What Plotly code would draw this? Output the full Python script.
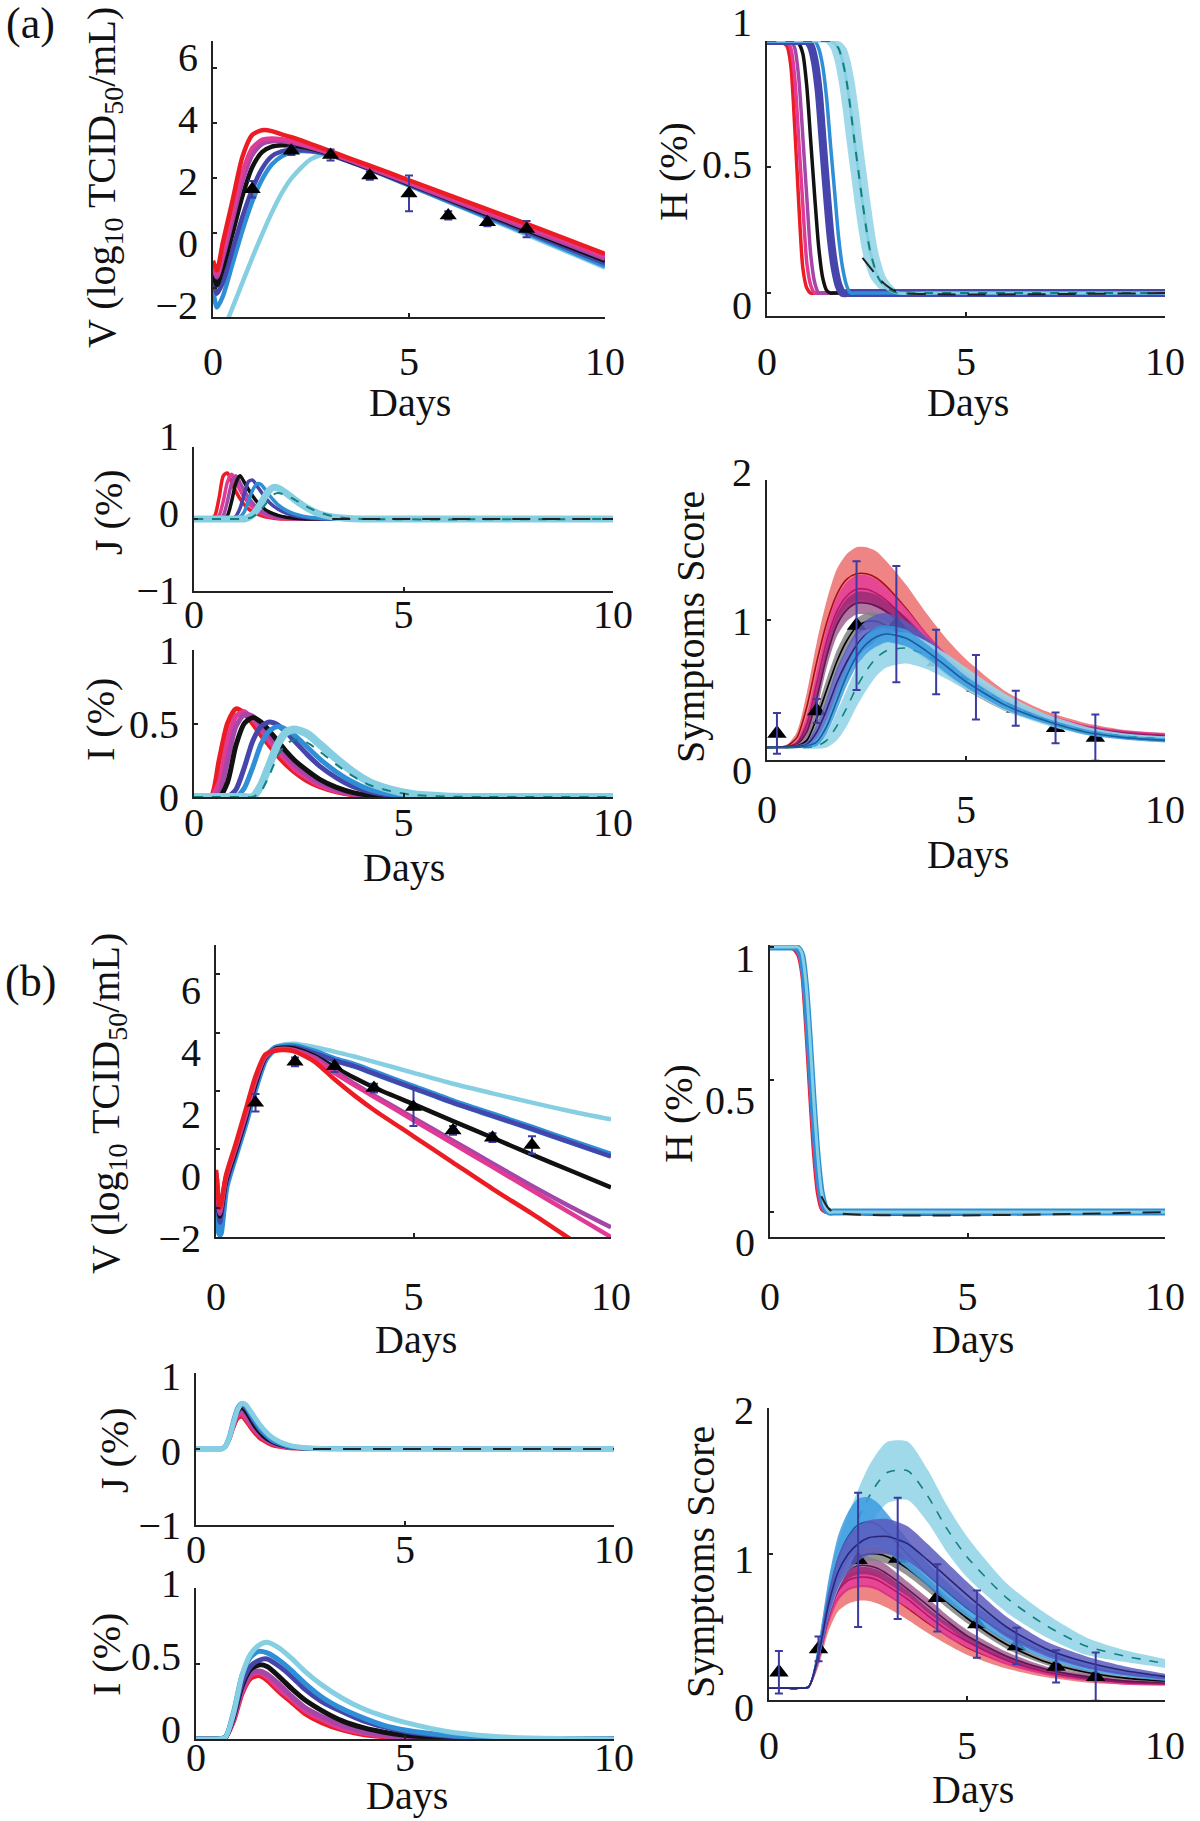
import plotly.graph_objects as go

W, H = 1200, 1821
FONT = "Liberation Serif, Times New Roman, serif"

# line colours of the seven parameter groups
COLORS = {
    "red": "#ec1c24", "pink": "#e03a94", "purple": "#a547a9", "black": "#111111",
    "indigo": "#4545ab", "blue": "#2f8fd6", "cyan": "#86cfe3",
}
FILLS = {
    "red": "rgba(236,110,110,0.85)", "pink": "rgba(228,60,150,0.85)",
    "purple": "rgba(120,30,100,0.60)", "black": "rgba(130,130,130,0.85)",
    "indigo": "rgba(90,90,190,0.85)", "blue": "rgba(60,155,225,0.85)",
    "cyan": "rgba(150,214,232,0.90)",
}
CENTER = {
    "red": "#a80d12", "pink": "#b8156e", "purple": "#5e1650", "black": "#000000",
    "indigo": "#26267a", "blue": "#16609c", "cyan": "#12807c",
}
V_ORDER = ["cyan", "blue", "indigo", "black", "purple", "pink", "red"]
L_ORDER = ["red", "pink", "purple", "black", "indigo", "blue", "cyan"]
SA_ORDER = ["red", "pink", "purple", "black", "indigo", "cyan", "blue"]
SB_ORDER = ["red", "pink", "purple", "black", "cyan", "blue", "indigo"]

# observed data
V_DAYS = [1, 2, 3, 4, 5, 6, 7, 8]
V_OBS = [1.6, 3.0, 2.85, 2.1, 1.45, 0.65, 0.4, 0.15]
V_ERR = [0.3, 0.15, 0.2, 0.15, 0.65, 0.15, 0.15, 0.3]
S_DAYS = [0.25, 1.25, 2.25, 3.25, 4.25, 5.25, 6.25, 7.25, 8.25]
S_OBS = [0.19, 0.35, 0.96, 0.97, 0.7, 0.52, 0.37, 0.23, 0.16]
S_ERR = [0.145, 0.085, 0.46, 0.415, 0.23, 0.23, 0.125, 0.11, 0.165]

# ---- viral load, log10 TCID50/mL ----
V_GRID = [0, 0.1, 0.25, 0.5, 0.75, 1.0, 1.25, 1.5, 1.75, 2.0, 2.5, 3.0, 3.5, 4, 5, 6, 7, 8, 9, 10]
VA = {
    "red":    [-1.0, -1.35, -0.35, 1.2, 2.78, 3.58, 3.75, 3.72, 3.6, 3.5, 3.25, 2.98, 2.72, 2.46, 1.93, 1.4, 0.87, 0.34, -0.2, -0.75],
    "pink":   [-1.1, -1.5, -0.7, 0.8, 2.2, 3.1, 3.4, 3.45, 3.42, 3.35, 3.15, 2.93, 2.67, 2.4, 1.86, 1.32, 0.78, 0.24, -0.3, -0.85],
    "purple": [-1.2, -1.6, -0.9, 0.5, 1.9, 2.85, 3.25, 3.35, 3.35, 3.3, 3.12, 2.9, 2.64, 2.37, 1.82, 1.27, 0.72, 0.17, -0.38, -0.93],
    "black":  [-1.4, -1.9, -1.3, 0.0, 1.35, 2.4, 2.95, 3.15, 3.2, 3.2, 3.08, 2.88, 2.62, 2.35, 1.8, 1.24, 0.68, 0.12, -0.44, -1.0],
    "indigo": [-1.6, -2.2, -1.8, -0.6, 0.6, 1.6, 2.35, 2.8, 2.98, 3.03, 3.0, 2.85, 2.6, 2.33, 1.77, 1.2, 0.63, 0.06, -0.52, -1.1],
    "blue":   [-2.0, -2.7, -2.3, -1.1, 0.1, 1.15, 1.95, 2.5, 2.8, 2.95, 2.98, 2.85, 2.6, 2.32, 1.74, 1.16, 0.58, 0.0, -0.6, -1.2],
    "cyan":   [-3.4, -3.6, -3.5, -2.7, -1.8, -0.9, -0.05, 0.75, 1.45, 2.0, 2.7, 2.92, 2.68, 2.36, 1.75, 1.15, 0.55, -0.05, -0.65, -1.25],
}
VB = {
    "red":    [-0.7, -2.0, -0.9, 0.2, 1.35, 2.5, 3.25, 3.38, 3.4, 3.35, 3.0, 2.4, 1.85, 1.35, 0.45, -0.45, -1.35, -2.2, -3.1, -4.0],
    "pink":   [-0.75, -2.1, -0.95, 0.12, 1.25, 2.42, 3.2, 3.4, 3.42, 3.37, 3.08, 2.62, 2.2, 1.8, 1.0, 0.2, -0.6, -1.4, -2.2, -3.0],
    "purple": [-0.8, -2.2, -1.0, 0.05, 1.15, 2.35, 3.18, 3.42, 3.45, 3.4, 3.15, 2.7, 2.25, 1.85, 1.08, 0.3, -0.48, -1.25, -1.98, -2.67],
    "black":  [-0.85, -2.3, -1.1, -0.05, 1.05, 2.25, 3.15, 3.44, 3.48, 3.45, 3.2, 2.82, 2.45, 2.12, 1.55, 0.97, 0.4, -0.18, -0.74, -1.3],
    "indigo": [-0.9, -2.5, -1.2, -0.1, 1.0, 2.2, 3.12, 3.45, 3.5, 3.5, 3.3, 3.05, 2.85, 2.6, 2.1, 1.6, 1.15, 0.7, 0.23, -0.24],
    "blue":   [-1.0, -2.9, -1.3, -0.15, 0.95, 2.15, 3.1, 3.46, 3.52, 3.52, 3.33, 3.08, 2.88, 2.63, 2.13, 1.63, 1.18, 0.73, 0.26, -0.2],
    "cyan":   [-1.0, -2.9, -1.35, -0.2, 0.9, 2.1, 3.1, 3.5, 3.6, 3.62, 3.5, 3.35, 3.18, 3.0, 2.62, 2.25, 1.92, 1.6, 1.3, 1.03],
}

# ---- healthy cells H ----
HA_GRID = [0, 0.3, 0.5, 0.6, 0.7, 0.8, 0.9, 1.0, 1.1, 1.2, 1.3, 1.4, 1.5, 1.6, 1.7, 1.8, 1.9, 2.0,
           2.1, 2.2, 2.3, 2.4, 2.5, 2.6, 2.8, 3.0, 3.3, 4.0, 10]
HA = {
    "red":    [1, 1, 0.98, 0.9, 0.65, 0.35, 0.1, 0.02, 0, 0, 0, 0, 0, 0, 0, 0, 0, 0, 0, 0, 0, 0, 0, 0, 0, 0, 0, 0, 0],
    "pink":   [1, 1, 1, 0.97, 0.85, 0.6, 0.35, 0.12, 0.03, 0, 0, 0, 0, 0, 0, 0, 0, 0, 0, 0, 0, 0, 0, 0, 0, 0, 0, 0, 0],
    "purple": [1, 1, 1, 1, 0.97, 0.85, 0.62, 0.38, 0.15, 0.04, 0, 0, 0, 0, 0, 0, 0, 0, 0, 0, 0, 0, 0, 0, 0, 0, 0, 0, 0],
    "black":  [1, 1, 1, 1, 1, 0.99, 0.95, 0.82, 0.6, 0.38, 0.18, 0.06, 0.01, 0, 0, 0, 0, 0, 0, 0, 0, 0, 0, 0, 0, 0, 0, 0, 0],
    "indigo": [1, 1, 1, 1, 1, 1, 1, 1, 0.98, 0.92, 0.8, 0.6, 0.4, 0.22, 0.1, 0.03, 0, 0, 0, 0, 0, 0, 0, 0, 0, 0, 0, 0, 0],
    "blue":   [1, 1, 1, 1, 1, 1, 1, 1, 1, 1, 0.97, 0.9, 0.77, 0.58, 0.4, 0.22, 0.1, 0.03, 0, 0, 0, 0, 0, 0, 0, 0, 0, 0, 0],
    "cyan":   [1, 1, 1, 1, 1, 1, 1, 1, 1, 1, 1, 1, 1, 1, 0.99, 0.97, 0.92, 0.84, 0.73, 0.6, 0.48, 0.36, 0.25, 0.16, 0.06, 0.02, 0, 0, 0],
}
HA_CYAN_HI = [1, 1, 1, 1, 1, 1, 1, 1, 1, 1, 1, 1, 1, 1, 1, 1, 0.99, 0.97, 0.92, 0.84, 0.73, 0.6, 0.48, 0.36, 0.16, 0.06, 0.01, 0, 0]
HA_CYAN_LO = [1, 1, 1, 1, 1, 1, 1, 1, 1, 1, 1, 1, 0.99, 0.97, 0.92, 0.84, 0.73, 0.6, 0.48, 0.36, 0.25, 0.16, 0.1, 0.06, 0.02, 0, 0, 0, 0]
HA_DASH_DAYS = [2.4, 2.6, 2.8, 3.0, 3.2, 3.4, 10]
HA_DASH = [0.14, 0.1, 0.06, 0.03, 0.01, 0, 0]

HB_GRID = [0, 0.5, 0.6, 0.7, 0.8, 0.9, 1.0, 1.1, 1.2, 1.3, 1.4, 1.5, 1.6, 10]
HB = {
    "red":    [1, 1, 0.99, 0.97, 0.9, 0.7, 0.45, 0.22, 0.07, 0.01, 0, 0, 0, 0],
    "pink":   [1, 1, 0.995, 0.98, 0.92, 0.74, 0.5, 0.27, 0.1, 0.02, 0, 0, 0, 0],
    "purple": [1, 1, 1, 0.985, 0.94, 0.77, 0.54, 0.31, 0.12, 0.03, 0, 0, 0, 0],
    "black":  [1, 1, 1, 0.99, 0.95, 0.8, 0.58, 0.35, 0.15, 0.05, 0.02, 0.01, 0, 0],
    "indigo": [1, 1, 1, 0.99, 0.96, 0.82, 0.6, 0.37, 0.17, 0.05, 0.01, 0, 0, 0],
    "blue":   [1, 1, 1, 0.995, 0.97, 0.85, 0.64, 0.4, 0.2, 0.07, 0.015, 0, 0, 0],
    "cyan":   [1, 1, 1, 1, 0.98, 0.88, 0.68, 0.44, 0.23, 0.08, 0.02, 0, 0, 0],
}
HB_DASH_DAYS = [1.3, 1.45, 1.6, 10]
HB_DASH = [0.06, 0.02, 0, 0]

# ---- eclipse cells J ----
JA_GRID = [0, 0.4, 0.5, 0.6, 0.7, 0.8, 0.9, 1.0, 1.1, 1.2, 1.3, 1.4, 1.5, 1.6, 1.7, 1.8, 1.9, 2.0,
           2.2, 2.4, 2.6, 2.8, 3.0, 3.3, 3.6, 4.0, 10]
JA = {
    "red":    [0, 0, 0.05, 0.3, 0.6, 0.64, 0.5, 0.38, 0.28, 0.2, 0.14, 0.1, 0.07, 0.05, 0.03, 0.02, 0.01, 0.005, 0, 0, 0, 0, 0, 0, 0, 0, 0],
    "pink":   [0, 0, 0, 0.05, 0.25, 0.52, 0.62, 0.52, 0.4, 0.3, 0.22, 0.16, 0.11, 0.08, 0.05, 0.035, 0.02, 0.012, 0.004, 0, 0, 0, 0, 0, 0, 0, 0],
    "purple": [0, 0, 0, 0, 0.05, 0.25, 0.5, 0.6, 0.5, 0.39, 0.3, 0.22, 0.16, 0.11, 0.08, 0.055, 0.038, 0.025, 0.01, 0.003, 0, 0, 0, 0, 0, 0, 0],
    "black":  [0, 0, 0, 0, 0, 0.05, 0.25, 0.5, 0.6, 0.51, 0.41, 0.32, 0.24, 0.18, 0.13, 0.095, 0.07, 0.05, 0.025, 0.012, 0.005, 0, 0, 0, 0, 0, 0],
    "indigo": [0, 0, 0, 0, 0, 0, 0, 0.04, 0.15, 0.35, 0.52, 0.54, 0.46, 0.38, 0.3, 0.23, 0.18, 0.14, 0.08, 0.045, 0.025, 0.012, 0.005, 0, 0, 0, 0],
    "blue":   [0, 0, 0, 0, 0, 0, 0, 0, 0.03, 0.1, 0.25, 0.4, 0.49, 0.48, 0.41, 0.33, 0.26, 0.2, 0.12, 0.07, 0.04, 0.02, 0.01, 0.003, 0, 0, 0],
    "cyan":   [0, 0, 0, 0, 0, 0, 0, 0, 0, 0, 0.02, 0.06, 0.13, 0.22, 0.32, 0.4, 0.44, 0.43, 0.36, 0.27, 0.19, 0.12, 0.07, 0.03, 0.01, 0, 0],
}
JA_TEAL = [0, 0, 0, 0, 0, 0, 0, 0, 0, 0, 0.01, 0.03, 0.07, 0.13, 0.2, 0.28, 0.34, 0.36, 0.33, 0.27, 0.2, 0.14, 0.09, 0.04, 0.015, 0, 0]
JA_DASH_DAYS = [3.3, 10]
JA_DASH = [0, 0]

JB_GRID = [0, 0.5, 0.6, 0.7, 0.8, 0.9, 1.0, 1.1, 1.2, 1.3, 1.4, 1.5, 1.6, 1.8, 2.0, 2.2, 2.5, 3.0, 10]
JB = {
    "red":    [0, 0, 0, 0.03, 0.12, 0.28, 0.4, 0.42, 0.36, 0.28, 0.21, 0.15, 0.11, 0.05, 0.025, 0.01, 0.003, 0, 0],
    "pink":   [0, 0, 0, 0.03, 0.13, 0.3, 0.43, 0.45, 0.39, 0.31, 0.24, 0.18, 0.13, 0.07, 0.035, 0.015, 0.005, 0, 0],
    "purple": [0, 0, 0, 0.03, 0.14, 0.32, 0.46, 0.5, 0.44, 0.35, 0.27, 0.2, 0.15, 0.08, 0.04, 0.02, 0.006, 0, 0],
    "black":  [0, 0, 0, 0.03, 0.15, 0.34, 0.49, 0.54, 0.48, 0.39, 0.3, 0.23, 0.17, 0.095, 0.05, 0.025, 0.008, 0.001, 0],
    "indigo": [0, 0, 0, 0.03, 0.15, 0.35, 0.51, 0.57, 0.52, 0.43, 0.34, 0.26, 0.2, 0.11, 0.06, 0.03, 0.01, 0.002, 0],
    "blue":   [0, 0, 0, 0.035, 0.16, 0.37, 0.54, 0.6, 0.56, 0.47, 0.38, 0.3, 0.23, 0.13, 0.075, 0.04, 0.015, 0.003, 0],
    "cyan":   [0, 0, 0, 0.03, 0.15, 0.35, 0.52, 0.6, 0.58, 0.5, 0.42, 0.34, 0.27, 0.16, 0.095, 0.055, 0.022, 0.005, 0],
}
JB_DASH_DAYS = [2.8, 10]
JB_DASH = [0, 0]

# ---- infected cells I ----
IA_GRID = [0, 0.4, 0.6, 0.8, 1.0, 1.2, 1.4, 1.6, 1.8, 2.0, 2.2, 2.4, 2.7, 3.0, 3.4, 3.8, 4.2, 4.7, 5.2, 6, 7, 10]
IA = {
    "red":    [0, 0, 0.25, 0.5, 0.6, 0.57, 0.5, 0.42, 0.35, 0.28, 0.22, 0.17, 0.11, 0.07, 0.035, 0.015, 0.005, 0, 0, 0, 0, 0],
    "pink":   [0, 0, 0.1, 0.38, 0.55, 0.58, 0.53, 0.46, 0.38, 0.31, 0.25, 0.19, 0.13, 0.08, 0.04, 0.018, 0.007, 0, 0, 0, 0, 0],
    "purple": [0, 0, 0.03, 0.25, 0.48, 0.56, 0.55, 0.49, 0.42, 0.35, 0.28, 0.22, 0.15, 0.1, 0.05, 0.022, 0.009, 0.002, 0, 0, 0, 0],
    "black":  [0, 0, 0, 0.1, 0.35, 0.5, 0.54, 0.51, 0.45, 0.38, 0.31, 0.25, 0.18, 0.12, 0.065, 0.03, 0.012, 0.003, 0, 0, 0, 0],
    "indigo": [0, 0, 0, 0, 0.05, 0.2, 0.38, 0.48, 0.51, 0.49, 0.44, 0.38, 0.29, 0.21, 0.13, 0.07, 0.035, 0.012, 0.003, 0, 0, 0],
    "blue":   [0, 0, 0, 0, 0, 0.06, 0.2, 0.36, 0.45, 0.48, 0.46, 0.42, 0.34, 0.26, 0.17, 0.1, 0.05, 0.018, 0.005, 0, 0, 0],
    "cyan":   [0, 0, 0, 0, 0, 0, 0, 0.08, 0.22, 0.36, 0.44, 0.46, 0.43, 0.36, 0.26, 0.17, 0.1, 0.05, 0.02, 0.004, 0, 0],
}
IA_TEAL = [0, 0, 0, 0, 0, 0, 0, 0.04, 0.15, 0.28, 0.36, 0.39, 0.37, 0.31, 0.22, 0.14, 0.08, 0.04, 0.015, 0.003, 0, 0]

IB_GRID = [0, 0.5, 0.7, 0.9, 1.1, 1.3, 1.5, 1.7, 2.0, 2.3, 2.6, 3.0, 3.5, 4.0, 4.5, 5.0, 6.0, 7.0, 8.0, 10]
IB = {
    "red":    [0, 0, 0.01, 0.12, 0.3, 0.4, 0.42, 0.39, 0.31, 0.24, 0.17, 0.11, 0.06, 0.03, 0.015, 0.007, 0, 0, 0, 0],
    "pink":   [0, 0, 0.01, 0.13, 0.31, 0.42, 0.44, 0.41, 0.33, 0.26, 0.19, 0.13, 0.07, 0.04, 0.02, 0.01, 0, 0, 0, 0],
    "purple": [0, 0, 0.01, 0.14, 0.33, 0.43, 0.45, 0.43, 0.36, 0.28, 0.21, 0.15, 0.09, 0.05, 0.025, 0.012, 0.003, 0, 0, 0],
    "black":  [0, 0, 0.01, 0.15, 0.35, 0.46, 0.49, 0.48, 0.41, 0.33, 0.26, 0.19, 0.12, 0.075, 0.045, 0.025, 0.008, 0.002, 0, 0],
    "indigo": [0, 0, 0.01, 0.16, 0.37, 0.48, 0.52, 0.53, 0.48, 0.41, 0.33, 0.25, 0.18, 0.12, 0.08, 0.05, 0.02, 0.006, 0.001, 0],
    "blue":   [0, 0, 0.01, 0.18, 0.42, 0.54, 0.58, 0.57, 0.52, 0.45, 0.37, 0.28, 0.2, 0.14, 0.09, 0.06, 0.025, 0.008, 0.002, 0],
    "cyan":   [0, 0, 0.01, 0.17, 0.42, 0.56, 0.62, 0.64, 0.6, 0.53, 0.45, 0.36, 0.27, 0.2, 0.15, 0.11, 0.05, 0.02, 0.006, 0],
}

# ---- symptom score: centre line and half-width of each band ----
S_GRID = [0, 0.5, 0.75, 1.0, 1.25, 1.5, 1.75, 2.0, 2.25, 2.5, 2.75, 3.0, 3.5, 4.0, 4.5, 5.0, 6.0, 7.0, 8.0, 9.0, 10]
SA = {
    "red":    [0.09, 0.1, 0.16, 0.38, 0.7, 0.98, 1.18, 1.29, 1.33, 1.33, 1.3, 1.24, 1.08, 0.9, 0.74, 0.61, 0.42, 0.31, 0.24, 0.2, 0.18],
    "pink":   [0.09, 0.095, 0.12, 0.26, 0.55, 0.85, 1.06, 1.17, 1.22, 1.22, 1.19, 1.14, 1.0, 0.84, 0.7, 0.58, 0.4, 0.3, 0.23, 0.19, 0.17],
    "purple": [0.09, 0.095, 0.11, 0.2, 0.44, 0.74, 0.96, 1.07, 1.12, 1.12, 1.1, 1.06, 0.95, 0.81, 0.68, 0.57, 0.4, 0.29, 0.22, 0.18, 0.16],
    "black":  [0.09, 0.09, 0.1, 0.14, 0.3, 0.5, 0.7, 0.85, 0.95, 0.99, 0.99, 0.96, 0.87, 0.76, 0.65, 0.54, 0.38, 0.28, 0.21, 0.17, 0.15],
    "indigo": [0.09, 0.09, 0.095, 0.11, 0.2, 0.36, 0.55, 0.7, 0.82, 0.9, 0.94, 0.95, 0.9, 0.8, 0.68, 0.57, 0.4, 0.29, 0.21, 0.17, 0.15],
    "blue":   [0.09, 0.09, 0.09, 0.1, 0.13, 0.24, 0.42, 0.6, 0.74, 0.83, 0.88, 0.9, 0.87, 0.78, 0.67, 0.56, 0.39, 0.28, 0.2, 0.16, 0.14],
    "cyan":   [0.09, 0.09, 0.09, 0.09, 0.1, 0.14, 0.24, 0.37, 0.52, 0.64, 0.73, 0.78, 0.8, 0.75, 0.67, 0.58, 0.41, 0.29, 0.21, 0.17, 0.15],
}
SA_HW = {
    "red":    [0, 0.01, 0.04, 0.1, 0.14, 0.16, 0.18, 0.18, 0.19, 0.19, 0.19, 0.18, 0.17, 0.15, 0.13, 0.11, 0.07, 0.04, 0.025, 0.015, 0.015],
    "pink":   [0, 0, 0.02, 0.06, 0.09, 0.1, 0.1, 0.1, 0.1, 0.1, 0.1, 0.09, 0.08, 0.07, 0.06, 0.05, 0.04, 0.03, 0.02, 0.02, 0.02],
    "purple": [0, 0, 0.02, 0.05, 0.08, 0.08, 0.08, 0.08, 0.08, 0.08, 0.08, 0.07, 0.07, 0.06, 0.05, 0.05, 0.04, 0.03, 0.02, 0.02, 0.02],
    "black":  [0, 0, 0.01, 0.03, 0.06, 0.08, 0.08, 0.07, 0.06, 0.06, 0.06, 0.06, 0.05, 0.05, 0.04, 0.04, 0.03, 0.02, 0.02, 0.015, 0.015],
    "indigo": [0, 0, 0.01, 0.02, 0.05, 0.08, 0.1, 0.1, 0.1, 0.1, 0.1, 0.1, 0.09, 0.08, 0.07, 0.06, 0.04, 0.03, 0.02, 0.02, 0.015],
    "blue":   [0, 0, 0, 0.01, 0.03, 0.05, 0.07, 0.07, 0.07, 0.07, 0.07, 0.06, 0.06, 0.05, 0.05, 0.04, 0.03, 0.02, 0.02, 0.015, 0.015],
    "cyan":   [0, 0, 0, 0.01, 0.02, 0.05, 0.1, 0.13, 0.14, 0.14, 0.13, 0.12, 0.11, 0.1, 0.09, 0.08, 0.06, 0.04, 0.03, 0.02, 0.02],
}
SB = {
    "red":    [0.08, 0.08, 0.08, 0.09, 0.28, 0.55, 0.7, 0.76, 0.78, 0.78, 0.76, 0.72, 0.63, 0.53, 0.44, 0.36, 0.25, 0.18, 0.14, 0.12, 0.11],
    "pink":   [0.08, 0.08, 0.08, 0.09, 0.29, 0.58, 0.75, 0.82, 0.84, 0.84, 0.82, 0.78, 0.69, 0.58, 0.48, 0.4, 0.27, 0.19, 0.15, 0.12, 0.11],
    "purple": [0.08, 0.08, 0.08, 0.09, 0.3, 0.6, 0.8, 0.89, 0.92, 0.92, 0.9, 0.86, 0.76, 0.65, 0.54, 0.44, 0.3, 0.21, 0.16, 0.13, 0.12],
    "black":  [0.08, 0.08, 0.08, 0.09, 0.3, 0.62, 0.82, 0.93, 0.98, 1.0, 1.0, 0.98, 0.9, 0.79, 0.67, 0.56, 0.38, 0.26, 0.19, 0.15, 0.13],
    "indigo": [0.08, 0.08, 0.08, 0.09, 0.31, 0.65, 0.88, 1.0, 1.07, 1.11, 1.12, 1.12, 1.07, 0.96, 0.84, 0.72, 0.5, 0.35, 0.26, 0.2, 0.16],
    "blue":   [0.08, 0.08, 0.08, 0.09, 0.33, 0.7, 0.97, 1.12, 1.2, 1.22, 1.2, 1.14, 1.0, 0.86, 0.74, 0.63, 0.45, 0.32, 0.23, 0.18, 0.15],
    "cyan":   [0.08, 0.08, 0.08, 0.09, 0.33, 0.68, 0.92, 1.08, 1.24, 1.38, 1.49, 1.56, 1.57, 1.4, 1.17, 0.98, 0.7, 0.51, 0.37, 0.3, 0.25],
}
SB_HW = {
    "red":    [0, 0, 0, 0.01, 0.05, 0.08, 0.09, 0.1, 0.1, 0.1, 0.1, 0.09, 0.08, 0.07, 0.06, 0.05, 0.035, 0.025, 0.02, 0.015, 0.01],
    "pink":   [0, 0, 0, 0.01, 0.04, 0.07, 0.07, 0.07, 0.07, 0.07, 0.07, 0.07, 0.06, 0.05, 0.05, 0.04, 0.03, 0.02, 0.02, 0.015, 0.01],
    "purple": [0, 0, 0, 0.01, 0.04, 0.06, 0.06, 0.06, 0.06, 0.06, 0.06, 0.06, 0.05, 0.05, 0.04, 0.04, 0.03, 0.02, 0.02, 0.015, 0.01],
    "black":  [0, 0, 0, 0.01, 0.04, 0.05, 0.05, 0.05, 0.05, 0.05, 0.05, 0.05, 0.05, 0.045, 0.04, 0.035, 0.03, 0.02, 0.015, 0.01, 0.01],
    "indigo": [0, 0, 0, 0.01, 0.05, 0.09, 0.11, 0.12, 0.12, 0.12, 0.12, 0.12, 0.12, 0.11, 0.1, 0.09, 0.07, 0.05, 0.04, 0.03, 0.02],
    "blue":   [0, 0, 0, 0.01, 0.06, 0.12, 0.16, 0.17, 0.18, 0.17, 0.15, 0.13, 0.1, 0.08, 0.07, 0.06, 0.05, 0.04, 0.03, 0.02, 0.02],
    "cyan":   [0, 0, 0, 0.01, 0.06, 0.12, 0.16, 0.19, 0.2, 0.21, 0.21, 0.21, 0.2, 0.18, 0.16, 0.14, 0.1, 0.08, 0.06, 0.04, 0.03],
}

# panel boxes in pixels: x0, x1, top, bottom, y range, y ticks, x label standoff,
# and two (tick value, pixel row) pairs giving where the y tick labels sit
PANELS = {
    "va": (213, 605, 41, 317, [-3.05, 7.0], [-2, 0, 2, 4, 6], 8, ((6, 57), (-2, 305))),
    "ha": (767, 1165, 41, 316, [-0.091, 1.0], [0, 0.5, 1], 9, ((1, 22), (0, 305))),
    "ja": (194, 613, 447, 591, [-1, 1], [-1, 0, 1], -13, ((1, 436), (-1, 590))),
    "ia": (194, 613, 650, 797, [0, 1], [0, 0.5, 1], -11, ((1, 650), (0, 797))),
    "sa": (767, 1165, 480, 760, [0, 2], [0, 1, 2], 13, ((2, 472), (0, 770))),
    "vb": (216, 611, 945, 1237, [-3.0, 7.0], [-2, 0, 2, 4, 6], 23, ((6, 990), (-2, 1238))),
    "hb": (770, 1165, 945, 1237, [-0.094, 1.0075], [0, 0.5, 1], 23, ((1, 958), (0, 1242))),
    "jb": (196, 614, 1373, 1525, [-1, 1], [-1, 0, 1], -12, ((1, 1376), (-1, 1525))),
    "ib": (196, 614, 1588, 1739, [0, 1], [0, 0.5, 1], -18, ((1, 1583), (0, 1729))),
    "sb": (769, 1165, 1408, 1700, [0, 2], [0, 1, 2], 9, ((2, 1410), (0, 1707))),
}
AXIS_ID = {k: i + 1 for i, k in enumerate(PANELS)}
N_PANELS = len(PANELS)

VTITLE = "V (log<sub>10</sub> TCID<sub>50</sub>/mL)"
TITLES = [
    (VTITLE, 104, 178, -90), ("Days", 410, 402, 0),
    ("H (%)", 673, 172, -90), ("Days", 968, 402, 0),
    ("J (%)", 108, 512, -90), ("I (%)", 100, 720, -90), ("Days", 404, 868, 0),
    ("Symptoms Score", 690, 627, -90), ("Days", 968, 855, 0),
    (VTITLE, 108, 1104, -90), ("Days", 416, 1339, 0),
    ("H (%)", 678, 1113, -90), ("Days", 973, 1339, 0),
    ("J (%)", 114, 1450, -90), ("I (%)", 106, 1655, -90), ("Days", 407, 1795, 0),
    ("Symptoms Score", 700, 1562, -90), ("Days", 973, 1789, 0),
]
PANEL_TAGS = [("(a)", 30, 23), ("(b)", 30, 982)]

fig = go.Figure()


def refs(panel):
    i = AXIS_ID[panel]
    return ("x" if i == 1 else f"x{i}"), ("y" if i == 1 else f"y{i}")


def add_line(panel, x, y, color, width, dash=None):
    xr, yr = refs(panel)
    fig.add_trace(go.Scatter(
        x=x, y=y, xaxis=xr, yaxis=yr, mode="lines", hoverinfo="skip",
        line=dict(color=color, width=width, dash=dash, shape="spline", smoothing=0.7),
    ))


def add_band(panel, x, lo, hi, fillcolor):
    xr, yr = refs(panel)
    fig.add_trace(go.Scatter(x=x, y=hi, xaxis=xr, yaxis=yr, mode="lines", hoverinfo="skip",
                             line=dict(width=0, shape="spline", smoothing=0.7)))
    fig.add_trace(go.Scatter(x=x, y=lo, xaxis=xr, yaxis=yr, mode="lines", hoverinfo="skip",
                             fill="tonexty", fillcolor=fillcolor,
                             line=dict(width=0, shape="spline", smoothing=0.7)))


def add_obs(panel, x, y, size):
    xr, yr = refs(panel)
    fig.add_trace(go.Scatter(
        x=x, y=y, xaxis=xr, yaxis=yr, mode="markers", hoverinfo="skip",
        marker=dict(symbol="triangle-up", size=size, color="black"),
    ))


def add_err(panel, x, y, err):
    xr, yr = refs(panel)
    fig.add_trace(go.Scatter(
        x=x, y=y, xaxis=xr, yaxis=yr, mode="markers", hoverinfo="skip",
        marker=dict(size=2, color="rgba(0,0,0,0)"),
        error_y=dict(type="data", array=err, color="#3b3ba0", thickness=2, width=4),
    ))


# viral load
for panel, data in (("va", VA), ("vb", VB)):
    for name in V_ORDER:
        add_line(panel, V_GRID, data[name], COLORS[name], 7 if (panel == "vb" and name == "blue") else 4.5)
    add_err(panel, V_DAYS, V_OBS, V_ERR)
    add_obs(panel, V_DAYS, V_OBS, 15)

# healthy cells
add_band("ha", HA_GRID, HA_CYAN_LO, HA_CYAN_HI, FILLS["cyan"])
for name in L_ORDER:
    if name == "cyan":
        add_line("ha", HA_GRID, HA[name], COLORS["cyan"], 3)
        add_line("ha", HA_GRID, HA[name], CENTER["cyan"], 2, dash="dash")
    else:
        add_line("ha", HA_GRID, HA[name], COLORS[name], 8 if name == "indigo" else 3.5)
add_line("ha", HA_DASH_DAYS, HA_DASH, "#222222", 2, dash="18px,12px")
for name in L_ORDER:
    add_line("hb", HB_GRID, HB[name], COLORS[name], 7 if name == "blue" else 3)
add_line("hb", HB_DASH_DAYS, HB_DASH, "#222222", 2, dash="18px,12px")

# eclipse cells
for name in L_ORDER:
    add_line("ja", JA_GRID, JA[name], COLORS[name], 7 if name == "cyan" else 3.5)
add_line("ja", JA_GRID, JA_TEAL, CENTER["cyan"], 2, dash="dash")
add_line("ja", JA_DASH_DAYS, JA_DASH, "#222222", 2, dash="18px,12px")
for name in L_ORDER:
    add_line("jb", JB_GRID, JB[name], COLORS[name], 5 if name in ("blue", "cyan") else 3.5)
add_line("jb", JB_DASH_DAYS, JB_DASH, "#222222", 2, dash="18px,12px")

# infected cells
for name in L_ORDER:
    add_line("ia", IA_GRID, IA[name], COLORS[name], 8 if name == "cyan" else 5)
add_line("ia", IA_GRID, IA_TEAL, CENTER["cyan"], 2, dash="dash")
for name in L_ORDER:
    add_line("ib", IB_GRID, IB[name], COLORS[name], 5)

# symptom score
for panel, data, hw, order in (("sa", SA, SA_HW, SA_ORDER), ("sb", SB, SB_HW, SB_ORDER)):
    for name in order:
        lo = [c - h for c, h in zip(data[name], hw[name])]
        hi = [c + h for c, h in zip(data[name], hw[name])]
        add_band(panel, S_GRID, lo, hi, FILLS[name])
        add_line(panel, S_GRID, data[name], CENTER[name], 1.6, dash="dash" if name == "cyan" else None)
        if name == "black":
            add_obs(panel, S_DAYS, S_OBS, 17)
    add_err(panel, S_DAYS, S_OBS, S_ERR)

# axes: each panel has a data y axis (line + ticks) and a free y axis that only carries
# the tick labels, placed where the labels sit in the original figure
tick_font = dict(family=FONT, size=40, color="#111111")
layout_axes = {}
for panel, (x0, x1, top, bottom, yrng, yticks, xsoff, lab) in PANELS.items():
    i = AXIS_ID[panel]
    sx = "" if i == 1 else str(i)
    layout_axes["xaxis" + sx] = dict(
        domain=[x0 / W, x1 / W], range=[0, 10], tickvals=[0, 5, 10],
        anchor="y" + sx, showline=True, linecolor="#222222", linewidth=2,
        ticks="inside", ticklen=4, tickwidth=2, tickcolor="#222222",
        showgrid=False, zeroline=False, tickfont=tick_font, ticklabelstandoff=xsoff,
        ticklabeloverflow="allow", automargin=False, fixedrange=True,
    )
    layout_axes["yaxis" + sx] = dict(
        domain=[1 - bottom / H, 1 - top / H], range=yrng, tickvals=yticks,
        anchor="x" + sx, showline=True, linecolor="#222222", linewidth=2,
        ticks="inside", ticklen=4, tickwidth=2, tickcolor="#222222",
        showgrid=False, zeroline=False, showticklabels=False,
        automargin=False, fixedrange=True,
    )
    # label axis
    (v1, p1), (v2, p2) = lab
    ptop, pbot = max(min(p1, p2) - 12, 0), min(max(p1, p2) + 12, H)
    per_px = (v1 - v2) / (p1 - p2)
    lr = [v1 + per_px * (pbot - p1), v1 + per_px * (ptop - p1)]
    j = i + N_PANELS
    layout_axes[f"yaxis{j}"] = dict(
        domain=[1 - pbot / H, 1 - ptop / H], range=lr, tickvals=yticks,
        anchor="free", position=x0 / W, side="left",
        showline=False, ticks="", showgrid=False, zeroline=False,
        tickfont=tick_font, ticklabelstandoff=15, ticklabeloverflow="allow",
        automargin=False, fixedrange=True,
    )
    fig.add_trace(go.Scatter(x=[None], y=[None], xaxis="x" + sx, yaxis=f"y{j}",
                             mode="markers", hoverinfo="skip"))

annotations = []
for text, px, py, ang in TITLES:
    annotations.append(dict(
        text=text, x=px / W, y=1 - py / H, xref="paper", yref="paper",
        xanchor="center", yanchor="middle", textangle=ang, showarrow=False,
        font=dict(family=FONT, size=40, color="#111111"),
    ))
for text, px, py in PANEL_TAGS:
    annotations.append(dict(
        text=text, x=px / W, y=1 - py / H, xref="paper", yref="paper",
        xanchor="center", yanchor="middle", showarrow=False,
        font=dict(family=FONT, size=44, color="#111111"),
    ))

fig.update_layout(
    width=W, height=H, margin=dict(l=0, r=0, t=0, b=0),
    paper_bgcolor="white", plot_bgcolor="rgba(0,0,0,0)", showlegend=False,
    annotations=annotations, **layout_axes,
)

fig.write_html("out.html", config={"displayModeBar": False},
               post_script="document.body.style.margin = '0';")
